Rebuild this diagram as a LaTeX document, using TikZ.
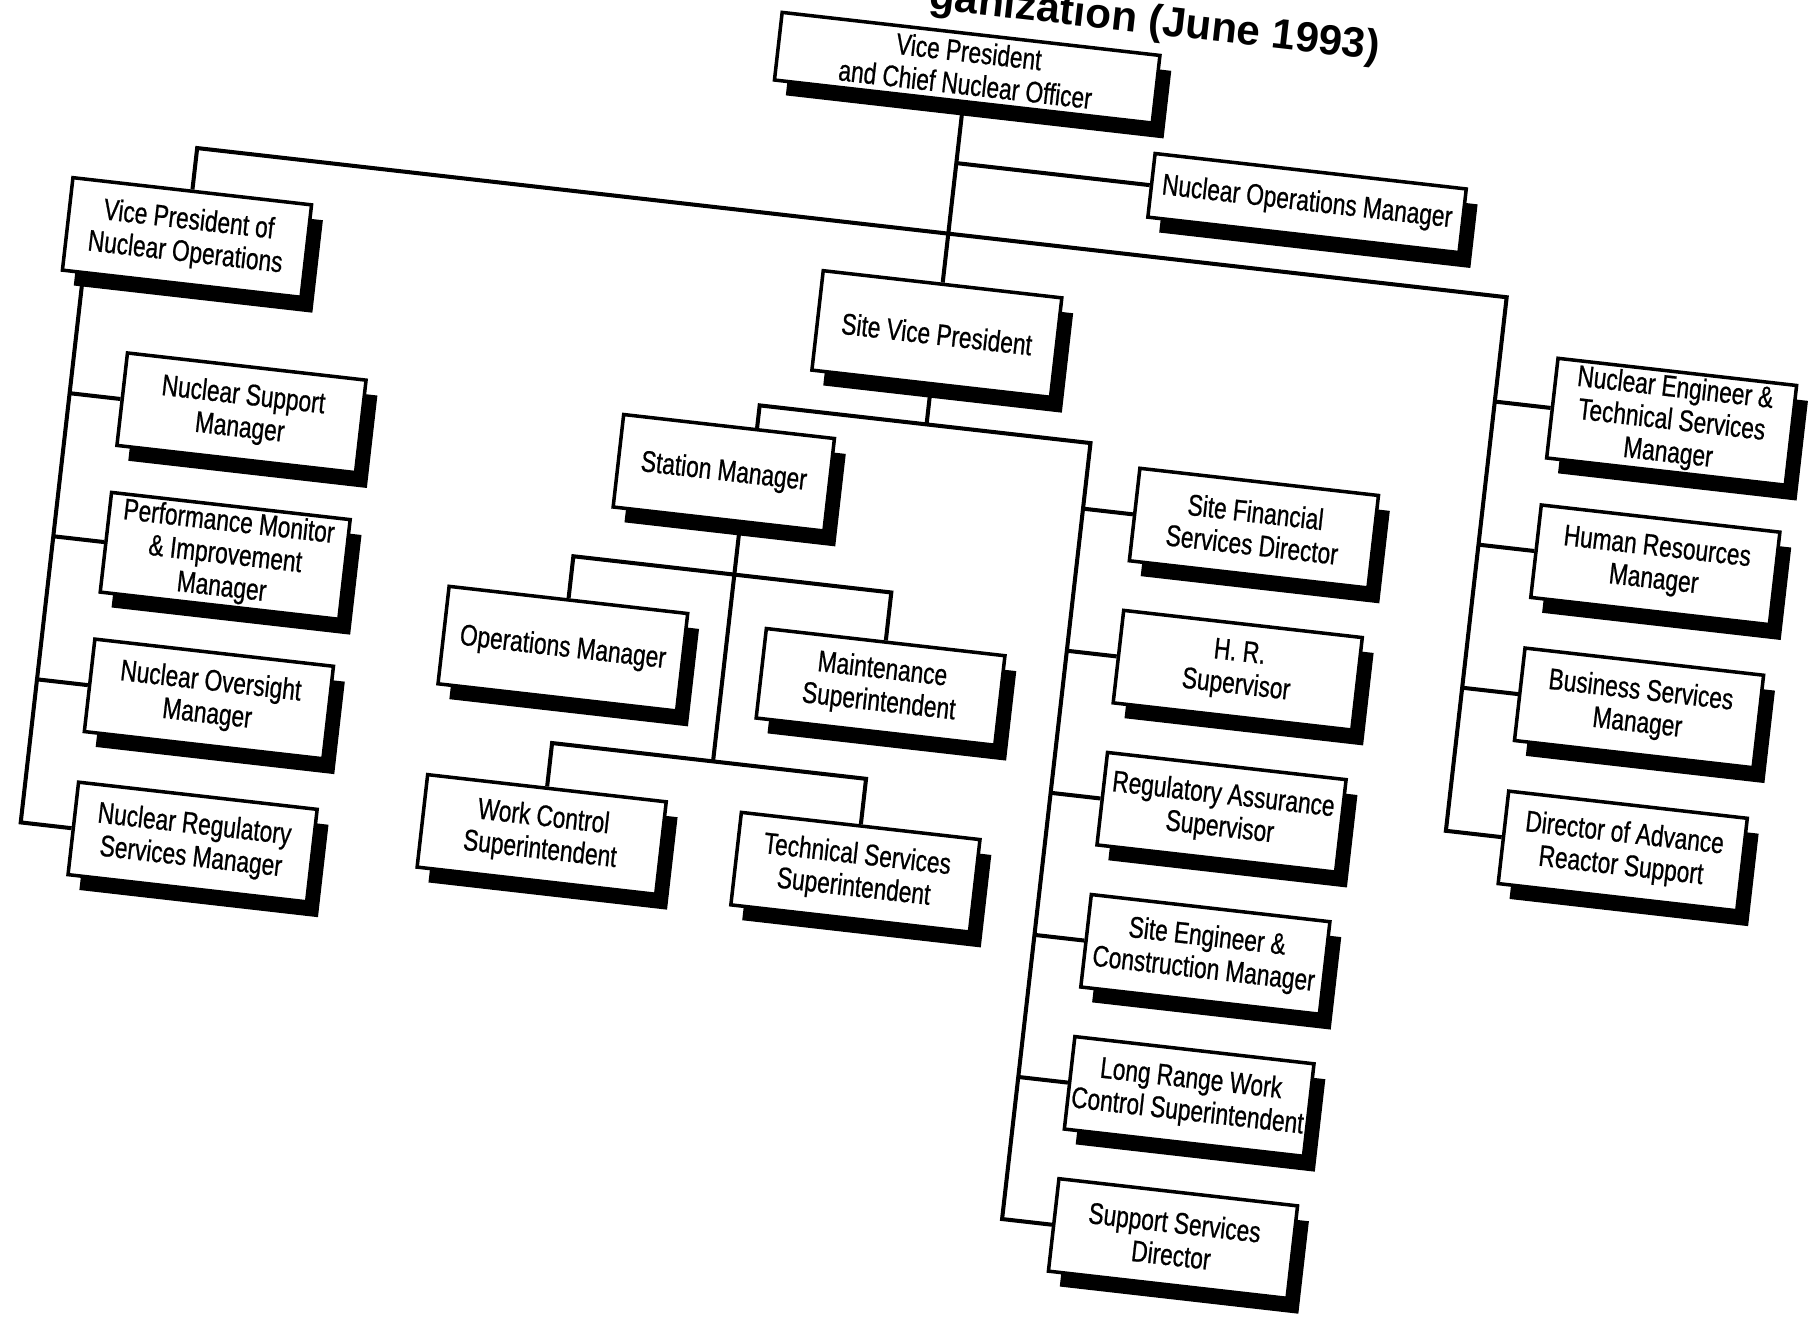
\documentclass[tikz,border=0pt]{standalone}
\usepackage{fontspec}
\setmainfont{Liberation Sans}[FakeStretch=0.76,FakeBold=0.7]
\newfontfamily\headfont{Liberation Sans}
\usepackage{tikz}
\usetikzlibrary{positioning,shadows}

\begin{document}
\begin{tikzpicture}[x=0.01cm,y=-0.01cm,
  every node/.style={font=\fontsize{8.5}{9.3}\selectfont},
  post/.style={draw,line width=1pt,fill=white,align=center,inner sep=1pt,
    minimum width=2.4cm,minimum height=0.93cm,
    drop shadow={shadow xshift=0.13cm,shadow yshift=-0.14cm,opacity=1,fill=black}},
  link/.style={line width=1.15pt}]
\fill[white] (0,0) rectangle (1819,1317);
\useasboundingbox (0,0) rectangle (1819,1317);
\begin{scope}[transform canvas={rotate around={-6.5:(910,658)}}]
\node[font=\headfont\bfseries\fontsize{12}{14}\selectfont] (title) at (1081,0) {ganization (June 1993)};
% top
\node[post,minimum width=3.8cm,minimum height=0.68cm] (cno) at (900,65) {Vice President\\and Chief Nuclear Officer};
\node[post,minimum width=3.13cm,minimum height=0.64cm] (nom) at (1253,161) {Nuclear Operations Manager};
\node[post] (vpno) at (144,322) {Vice President of\\Nuclear Operations};
\node[post,minimum height=1cm] (svp) at (900,333) {Site Vice President};
% nuclear operations
\node[post] (nsm) at (218,490) {Nuclear Support\\Manager};
\node[post] (pmim) at (218,634) {Performance Monitor\\\& Improvement\\Manager};
\node[post] (novm) at (218,778) {Nuclear Oversight\\Manager};
\node[post] (nrsm) at (218,922) {Nuclear Regulatory\\Services Manager};
% station
\node[post,minimum width=2.12cm] (sm) at (704,495) {Station Manager};
\node[post,minimum height=0.98cm] (om) at (564,688) {Operations Manager};
\node[post,minimum height=0.9cm] (ms) at (884,690) {Maintenance\\Superintendent};
\node[post] (wcs) at (564,875) {Work Control\\Superintendent};
\node[post] (tss) at (880,877) {Technical Services\\Superintendent};
% site
\node[post] (sfsd) at (1237,490) {Site Financial\\Services Director};
\node[post] (hrs) at (1237,633) {H. R.\\Supervisor};
\node[post] (ras) at (1237,776) {Regulatory Assurance\\Supervisor};
\node[post] (secm) at (1237,919) {Site Engineer \&\\Construction Manager};
\node[post] (lrwc) at (1237,1062) {Long Range Work\\Control Superintendent};
\node[post] (ssd) at (1237,1205) {Support Services\\Director};
% right
\node[post] (nets) at (1640,337) {Nuclear Engineer \&\\Technical Services\\Manager};
\node[post] (hrm) at (1640,481) {Human Resources\\Manager};
\node[post] (bsm) at (1640,625) {Business Services\\Manager};
\node[post] (dars) at (1640,769) {Director of Advance\\Reactor Support};
% lines
\coordinate (rtop) at (1462,232);
\coordinate (lcol) at (45,369);
\coordinate (mtop) at (1065,424);
\coordinate (sbar) at (726,595);
\coordinate (tbar) at (726,783);
\draw[link] (cno) -- (svp);
\draw[link] (cno.south |- nom.west) -- (nom.west);
\draw[link] (vpno.north) |- (rtop) |- (dars.west);
\draw[link] (rtop |- nets.west) -- (nets.west);
\draw[link] (rtop |- hrm.west) -- (hrm.west);
\draw[link] (rtop |- bsm.west) -- (bsm.west);
\draw[link] (lcol) |- (nrsm.west);
\draw[link] (lcol |- nsm.west) -- (nsm.west);
\draw[link] (lcol |- pmim.west) -- (pmim.west);
\draw[link] (lcol |- novm.west) -- (novm.west);
\draw[link] (svp.south) -- (svp.south |- mtop);
\draw[link] ([xshift=0.28cm]sm.north) |- (mtop) |- (ssd.west);
\draw[link] (mtop |- sfsd.west) -- (sfsd.west);
\draw[link] (mtop |- hrs.west) -- (hrs.west);
\draw[link] (mtop |- ras.west) -- (ras.west);
\draw[link] (mtop |- secm.west) -- (secm.west);
\draw[link] (mtop |- lrwc.west) -- (lrwc.west);
\draw[link] ([xshift=0.22cm]sm.south) -- (tbar);
\draw[link] (om.north) |- (sbar) -| (ms.north);
\draw[link] (wcs.north) |- (tbar) -| (tss.north);
\end{scope}
\end{tikzpicture}
\end{document}
